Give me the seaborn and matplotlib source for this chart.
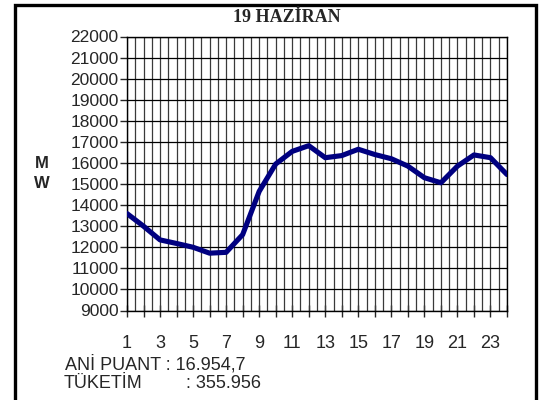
import numpy as np
import pandas as pd
import matplotlib
matplotlib.use("Agg")
import matplotlib.pyplot as plt
from matplotlib.patches import Rectangle
import seaborn as sns

# saatlik yuk degerleri (MW)
saatler = list(range(1, 25))
yuk_mw = [13600, 13000, 12350, 12180, 12000, 11720, 11760, 12600,
          14650, 15950, 16550, 16820, 16250, 16350, 16650, 16400,
          16200, 15850, 15300, 15060, 15850, 16380, 16250, 15450]
y_ticks = list(range(9000, 22001, 1000))
x_etiketler = [str(s) if s % 2 == 1 else "" for s in saatler]

baslik = "19 HAZİRAN"
ani_puant = "16.954,7"
tuketim = "355.956"

sns.set_style("white")
plt.rcParams["font.family"] = ["Liberation Sans", "DejaVu Sans"]

df = pd.DataFrame({"saat": saatler, "mw": yuk_mw})

fig = plt.figure(figsize=(5.41, 4.0), dpi=100)
ax = fig.add_axes([127 / 541, 1 - 310.5 / 400, 380 / 541, 274 / 400])

# dis cerceve
fig.patches.append(Rectangle((15.5 / 541, -0.05), 520.5 / 541, 1.05 - 5.5 / 400,
                             transform=fig.transFigure, fill=False,
                             edgecolor="black", linewidth=2.4, zorder=0))

# izgara
for v in np.arange(1, 24.01, 0.5):
    ax.axvline(v, color="#3a3a3a", linewidth=0.9, zorder=1)
for v in y_ticks:
    ax.axhline(v, color="black", linewidth=0.9, zorder=1)

sns.lineplot(data=df, x="saat", y="mw", ax=ax, color="#000080",
             linewidth=3.7, zorder=3, solid_joinstyle="round")

ax.set_xlim(1, 24)
ax.set_ylim(9000, 22000)
ax.set_yticks(y_ticks)
ax.set_yticklabels([str(v) for v in y_ticks], fontsize=12.5)
ax.set_xticks(saatler)
ax.set_xticklabels(x_etiketler, fontsize=13)
ax.tick_params(axis="y", direction="out", length=5, width=1, pad=1, left=True)
ax.tick_params(axis="x", direction="inout", length=8, width=1, pad=14, bottom=True)
ax.set_xlabel("")
ax.set_ylabel("")
for s in ax.spines.values():
    s.set_color("black")
    s.set_linewidth(1)

fig.text(287 / 541, 1 - 18 / 400, baslik, ha="center", va="center",
         family="Liberation Serif", fontweight="bold", fontsize=13)
fig.text(42 / 541, 1 - 163 / 400, "M", ha="center", va="center",
         fontweight="bold", fontsize=12)
fig.text(42 / 541, 1 - 184 / 400, "W", ha="center", va="center",
         fontweight="bold", fontsize=12)

fig.text(65 / 541, 1 - 364 / 400, "ANİ PUANT : " + ani_puant,
         ha="left", va="center", fontsize=13)
fig.text(64 / 541, 1 - 384 / 400, "TÜKETİM", ha="left", va="center", fontsize=13)
fig.text(186 / 541, 1 - 384 / 400, ": " + tuketim, ha="left", va="center", fontsize=13)

fig.savefig("out.png", dpi=100)
